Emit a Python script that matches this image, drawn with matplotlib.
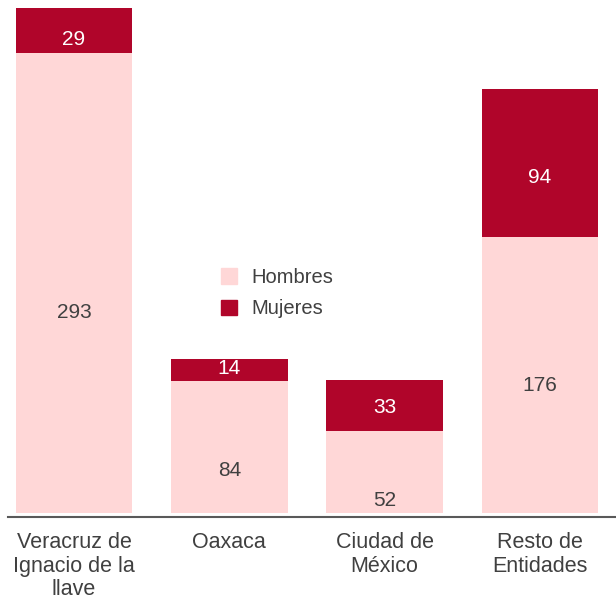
import numpy as np
import matplotlib.pyplot as plt
from matplotlib.patches import Patch

plt.rcParams['font.family'] = ['Liberation Sans', 'DejaVu Sans']

categories = ['Veracruz de\nIgnacio de la\nllave', 'Oaxaca', 'Ciudad de\nMéxico', 'Resto de\nEntidades']
hombres = [293, 84, 52, 176]
mujeres = [29, 14, 33, 94]

# where the value labels sit (data units)
hombres_label_y = [128, 27, 8, 81]
mujeres_label_y = [302, 92, 67, 214]

pink = '#FFD7D7'
red = '#B0052A'

fig = plt.figure(figsize=(6.16, 6.0), dpi=100)
ax = fig.add_axes([8/616, 1 - 517/600, 608/616, 517/600])

x = np.arange(len(categories))
ax.bar(x, hombres, width=0.75, color=pink, label='Hombres')
ax.bar(x, mujeres, width=0.75, bottom=hombres, color=red, label='Mujeres')

for i in range(len(categories)):
    ax.text(x[i], hombres_label_y[i], str(hombres[i]), ha='center', va='center',
            fontsize=15, color='#404040')
    ax.text(x[i], mujeres_label_y[i], str(mujeres[i]), ha='center', va='center',
            fontsize=15, color='white')

ax.set_xlim(-0.425, 3.49)
ax.set_ylim(-2.5, 327)
ax.set_xticks(x)
ax.set_xticklabels(categories, fontsize=15.5, color='#404040', linespacing=1.15)
ax.tick_params(axis='x', length=0, pad=11)
ax.set_yticks([])
for s in ['top', 'right', 'left']:
    ax.spines[s].set_visible(False)
ax.spines['bottom'].set_color('#595959')
ax.spines['bottom'].set_linewidth(1.5)

handles = [Patch(color=pink), Patch(color=red)]
fig.legend(handles, ['Hombres', 'Mujeres'], loc='upper left',
           bbox_to_anchor=(203/616, 1 - 250/600), frameon=False, fontsize=14.5,
           labelcolor='#404040', handlelength=0.8, handleheight=0.8,
           handletextpad=0.7, labelspacing=0.6)

fig.savefig('out.png', dpi=100)
